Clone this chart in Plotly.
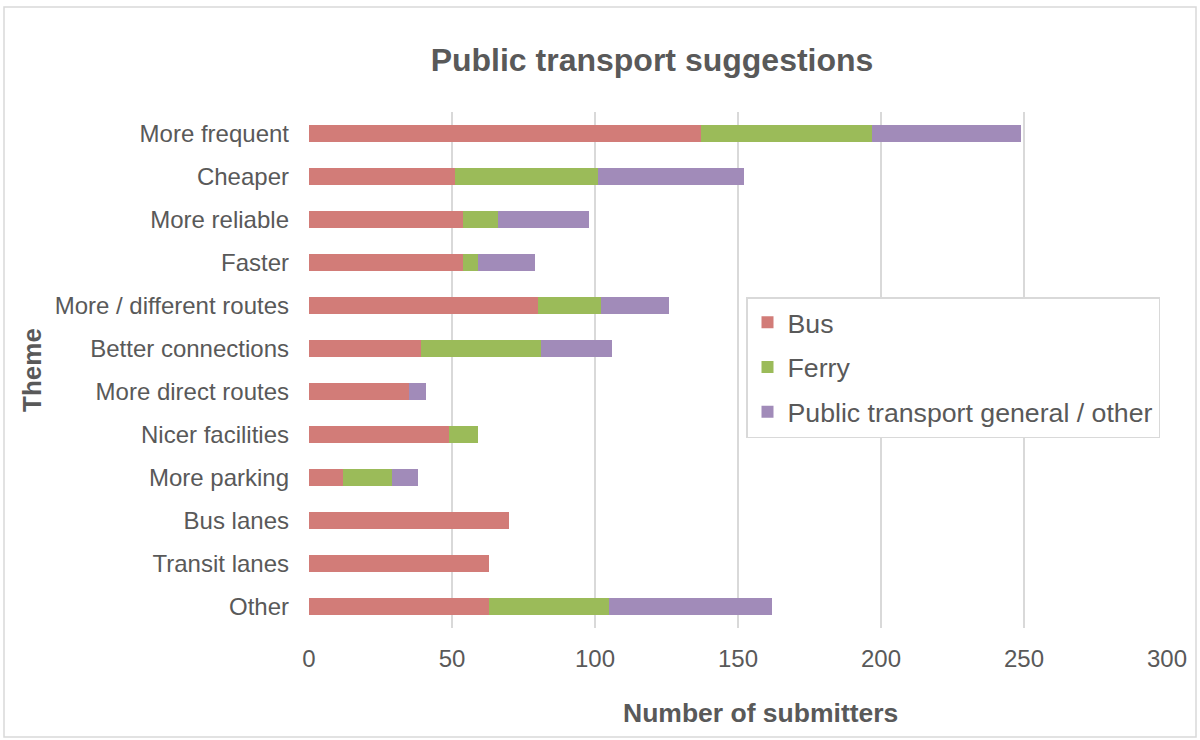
import plotly.graph_objects as go

themes = ["More frequent", "Cheaper", "More reliable", "Faster", "More / different routes",
          "Better connections", "More direct routes", "Nicer facilities", "More parking",
          "Bus lanes", "Transit lanes", "Other"]
bus = [137, 51, 54, 54, 80, 39, 35, 49, 12, 70, 63, 63]
ferry = [60, 50, 12, 5, 22, 42, 0, 10, 17, 0, 0, 42]
general = [52, 51, 32, 20, 24, 25, 6, 0, 9, 0, 0, 57]

series = [("Bus", bus, "#D27C78"), ("Ferry", ferry, "#9BBB59"),
          ("Public transport general / other", general, "#A18BB9")]

FONT = "Arial, Liberation Sans, sans-serif"
GREY = "#595959"

fig = go.Figure()
for name, vals, col in series:
    fig.add_trace(go.Bar(y=themes, x=vals, name=name, orientation="h", legendgroup=name,
                         marker=dict(color=col, line=dict(width=0)), width=0.4))

fig.update_layout(
    barmode="stack",
    width=1200, height=740,
    margin=dict(l=309, r=33, t=112, b=112),
    paper_bgcolor="white", plot_bgcolor="white",
    font=dict(family=FONT, color=GREY, size=24),
    title=dict(text="<b>Public transport suggestions</b>", x=652/1200, xanchor="center",
               y=1 - 60/740, yanchor="middle", font=dict(size=32, color=GREY, family=FONT)),
    xaxis=dict(range=[0, 300], dtick=50, showgrid=True, gridcolor="#d9d9d9", gridwidth=1.5,
               zeroline=False, showline=False, ticks="", ticklabelstandoff=14,
               tickfont=dict(size=24, color=GREY)),
    yaxis=dict(autorange="reversed", showgrid=False, zeroline=False, showline=False, ticks="",
               ticklabelstandoff=19, tickfont=dict(size=24, color=GREY),
               title=dict(text="<b>Theme</b>", font=dict(size=26, color=GREY), standoff=5)),
    legend=dict(x=(746 - 309) / 858, y=(628 - 297) / 516, xanchor="left", yanchor="top",
                bordercolor="#d9d9d9", borderwidth=1.5, bgcolor="white",
                font=dict(size=26.7, color=GREY), traceorder="grouped",
                tracegroupgap=7, itemwidth=30),
    bargap=0.6,
)

fig.add_annotation(text="<b>Number of submitters</b>", xref="paper", yref="paper",
                   x=(760 - 309) / 858, y=(628 - 713) / 516, xanchor="center", yanchor="middle",
                   showarrow=False, font=dict(size=26.5, color=GREY, family=FONT))

fig.add_shape(type="rect", xref="paper", yref="paper",
              x0=(4 - 309) / 858, x1=(1196 - 309) / 858,
              y0=(628 - 737) / 516, y1=(628 - 7) / 516,
              line=dict(color="#d9d9d9", width=1.5), fillcolor="rgba(0,0,0,0)", layer="below")

fig.write_html("out.html", config={"displayModeBar": False},
               post_script="document.body.style.margin='0px';")
